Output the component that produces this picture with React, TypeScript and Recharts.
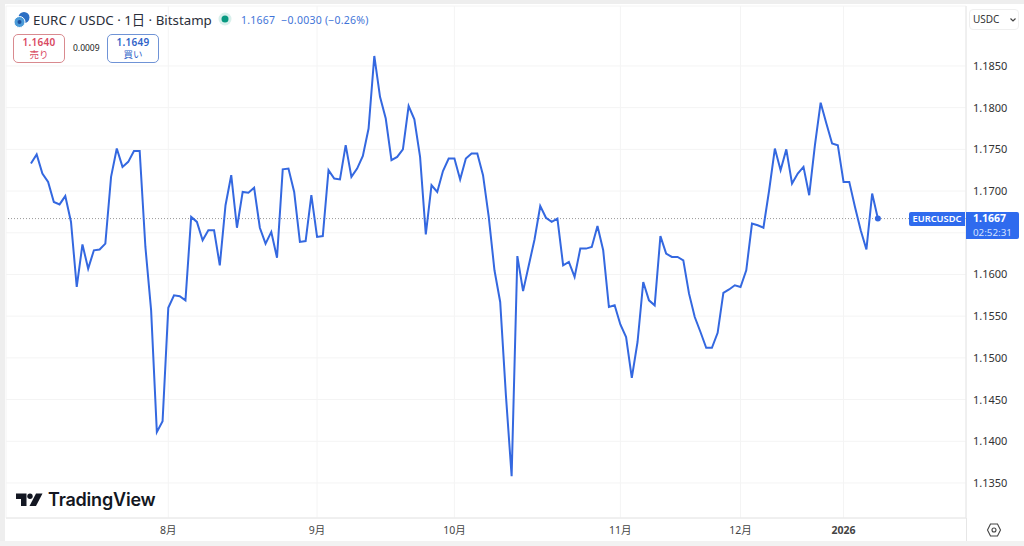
import React from "react";
import { LineChart, Line, XAxis, YAxis, CartesianGrid, ReferenceLine } from "recharts";

const closes = [
  1.1733, 1.1744, 1.1721, 1.1711, 1.1687, 1.1684, 1.1694, 1.1663, 1.1585, 1.1636,
  1.1607, 1.1629, 1.163, 1.1637, 1.1717, 1.1751, 1.1729, 1.1735, 1.1748, 1.1748,
  1.1633, 1.1557, 1.1411, 1.1424, 1.156, 1.1575, 1.1574, 1.1569, 1.1669, 1.1663,
  1.1641, 1.1653, 1.1653, 1.1611, 1.1683, 1.1719, 1.1656, 1.1699, 1.1698, 1.1704,
  1.1656, 1.1637, 1.1651, 1.162, 1.1726, 1.1727, 1.1699, 1.1639, 1.164, 1.1695,
  1.1645, 1.1646, 1.1725, 1.1715, 1.1714, 1.1755, 1.1717, 1.1727, 1.1742, 1.1775,
  1.1862, 1.1813, 1.1787, 1.1737, 1.1741, 1.175, 1.1802, 1.1786, 1.1741, 1.1648,
  1.1707, 1.1699, 1.1724, 1.1739, 1.1739, 1.1714, 1.1739, 1.1745, 1.1745, 1.1719,
  1.1669, 1.1605, 1.1567, 1.1455, 1.1358, 1.1622, 1.158, 1.1611, 1.1642, 1.1682,
  1.1668, 1.1663, 1.1667, 1.1611, 1.1615, 1.1597, 1.1631, 1.1631, 1.1633, 1.1658,
  1.1629, 1.1561, 1.1563, 1.154, 1.1525, 1.1476, 1.1519, 1.1591, 1.1569, 1.1563,
  1.1646, 1.1625, 1.1621, 1.1621, 1.1617, 1.1577, 1.1549, 1.1531, 1.1512, 1.1512,
  1.153, 1.1578, 1.1582, 1.1587, 1.1585, 1.1605, 1.1661, 1.1659, 1.1656, 1.1701,
  1.1751, 1.1725, 1.175, 1.1709, 1.1721, 1.1729, 1.1695, 1.1755, 1.1806, 1.1781,
  1.1757, 1.1755, 1.1711, 1.1711, 1.1681, 1.1653, 1.163, 1.1697, 1.1667,
];
const priceTicks = [1.135, 1.14, 1.145, 1.15, 1.155, 1.16, 1.165, 1.17, 1.175, 1.18, 1.185];
const hiddenPriceLabel = 1.165;
const monthTicks = [24, 50, 74, 103, 124, 142];
const monthLabels = ["8月", "9月", "10月", "11月", "12月", "2026"];
const lastPrice = 1.1667;
const data = closes.map((close, i) => ({ i, close }));

const FONT = "'Noto Sans', 'Noto Sans CJK JP', sans-serif";
const BLUE = "#3468e0";
const LABEL = "#2f6bee";

function XTick(props: any) {
  const { x, y, payload } = props;
  const k = monthTicks.indexOf(payload.value);
  const label = monthLabels[k];
  return (
    <text x={x} y={y + 8} textAnchor="middle" fontSize={10.5} fontFamily={FONT}
      fontWeight={label === "2026" ? 700 : 400} fill="#444">{label}</text>
  );
}

function YTick(props: any) {
  const { y, payload } = props;
  if (payload.value === hiddenPriceLabel) return <g />;
  return (
    <text x={973} y={y + 4} textAnchor="start" fontSize={11} fontFamily={FONT} fill="#333">
      {payload.value.toFixed(4)}
    </text>
  );
}

function Abs(p: { l: number; t: number; w?: number; h?: number; s?: React.CSSProperties; children?: React.ReactNode }) {
  return (
    <div style={{ position: "absolute", left: p.l, top: p.t, width: p.w, height: p.h, whiteSpace: "nowrap", ...p.s }}>
      {p.children}
    </div>
  );
}

function EndDot(props: any) {
  const { cx, cy, index } = props;
  if (index !== closes.length - 1) return <g key={index} />;
  return <circle key={index} cx={cx} cy={cy} r={3} fill={BLUE} />;
}

function Box({ l, price, word, color, bg }: { l: number; price: string; word: string; color: string; bg: string }) {
  return (
    <Abs l={l} t={34} w={52} h={29} s={{ border: `1px solid ${bg}`, borderRadius: 5, boxSizing: "border-box", textAlign: "center", color, background: "#fff" }}>
      <div style={{ fontSize: 10, fontWeight: 600, lineHeight: "13px", marginTop: 1, letterSpacing: 0.3 }}>{price}</div>
      <div style={{ fontSize: 9.5, lineHeight: "12px" }}>{word}</div>
    </Abs>
  );
}

export default function App() {
  return (
    <div style={{ position: "absolute", left: 0, top: 0, width: 1024, height: 546, background: "#fff", overflow: "hidden", fontFamily: FONT }}>
      <LineChart width={1024} height={546} data={data} margin={{ top: 6, right: 0, bottom: 0, left: 6 }}>
        <CartesianGrid stroke="#f4f4f4" strokeWidth={1} />
        <XAxis dataKey="i" type="number" domain={[-4.36, 163.4]} ticks={monthTicks} allowDataOverflow height={28}
          axisLine={{ stroke: "#e6e6e6" }} tickLine={false} tick={<XTick />} interval={0} />
        <YAxis orientation="right" type="number" domain={[1.1308, 1.19219]} ticks={priceTicks} allowDataOverflow width={58}
          axisLine={{ stroke: "#e6e6e6" }} tickLine={false} interval={0} tick={<YTick />} />
        <ReferenceLine y={lastPrice} stroke="#999" strokeDasharray="1 2" strokeWidth={1} />
        <Line dataKey="close" type="linear" stroke={BLUE} strokeWidth={2} dot={<EndDot />} activeDot={false} isAnimationActive={false} />
      </LineChart>

      {/* frame */}
      <Abs l={0} t={0} w={1024} h={4} s={{ background: "#eeeeee" }} />
      <Abs l={0} t={0} w={5} h={546} s={{ background: "#eeeeee" }} />
      <Abs l={0} t={541} w={1024} h={5} s={{ background: "#f2f2f2" }} />
      <Abs l={966} t={518} w={1} h={23} s={{ background: "#e6e6e6" }} />

      {/* header */}
      <svg style={{ position: "absolute", left: 13, top: 11 }} width={18} height={18}>
        <circle cx={11} cy={6.5} r={5.5} fill="#2b6fc4" />
        <circle cx={6.5} cy={11} r={5.5} fill="#4a9ad8" stroke="#fff" strokeWidth={1} />
        <circle cx={6.5} cy={11} r={2} fill="#1d4f9e" />
      </svg>
      <Abs l={33} t={10} s={{ fontSize: 13.3, lineHeight: "20px", color: "#2a2e39" }}>EURC / USDC · 1日 · Bitstamp</Abs>
      <svg style={{ position: "absolute", left: 218, top: 12 }} width={14} height={14}>
        <circle cx={7} cy={7} r={6.5} fill="#d9f0ec" />
        <circle cx={7} cy={7} r={3.5} fill="#089981" />
      </svg>
      <Abs l={241} t={11} s={{ fontSize: 10.5, lineHeight: "18px", color: "#3f74d8", letterSpacing: 0.25 }}>1.1667&nbsp;&nbsp;−0.0030 (−0.26%)</Abs>
      <Box l={13} price="1.1640" word="売り" color="#d9485f" bg="#d98a8f" />
      <Abs l={73} t={42} s={{ fontSize: 8.5, lineHeight: "12px", color: "#222" }}>0.0009</Abs>
      <Box l={107} price="1.1649" word="買い" color="#2f62c8" bg="#6f93d6" />

      {/* currency selector */}
      <Abs l={969} t={9} w={50} h={21} s={{ border: "1px solid #efefef", borderRadius: 4, boxSizing: "border-box", background: "#fff" }} />
      <Abs l={973} t={12} s={{ fontSize: 10, lineHeight: "15px", color: "#333" }}>USDC</Abs>
      <svg style={{ position: "absolute", left: 1009, top: 17 }} width={8} height={6}>
        <path d="M1.5 1.5 L4 4 L6.5 1.5" fill="none" stroke="#444" strokeWidth={1.2} />
      </svg>

      {/* last price labels */}
      <Abs l={909} t={212} w={56} h={14} s={{ background: LABEL, color: "#fff", fontSize: 9.3, fontWeight: 600, lineHeight: "14px", textAlign: "center", borderRadius: "2px 0 0 2px" }}>EURCUSDC</Abs>
      <Abs l={966} t={212} w={53} h={27} s={{ background: LABEL, borderRadius: "0 2px 2px 0" }} />
      <Abs l={973} t={211} s={{ color: "#fff", fontSize: 10.5, fontWeight: 700, lineHeight: "14px" }}>1.1667</Abs>
      <Abs l={973} t={226} s={{ color: "#d5e2ff", fontSize: 9.8, lineHeight: "13px" }}>02:52:31</Abs>

      {/* watermark */}
      <svg style={{ position: "absolute", left: 16, top: 492 }} width={27} height={16}>
        <path d="M0 1.5 H10.5 V14 H5 V7 H0 Z" fill="#131722" />
        <circle cx={14} cy={4.2} r={2.7} fill="#131722" />
        <path d="M20 1.5 H26.5 L20 14 H13.5 Z" fill="#131722" />
      </svg>
      <Abs l={48} t={487} s={{ fontFamily: "Inter, 'Noto Sans', sans-serif", fontSize: 18, fontWeight: 600, lineHeight: "26px", color: "#131722", letterSpacing: -0.2 }}>TradingView</Abs>

      {/* settings gear */}
      <svg style={{ position: "absolute", left: 986, top: 522 }} width={16} height={16}>
        <path d="M4.5 2 H11.5 L14.5 8 L11.5 14 H4.5 L1.5 8 Z" fill="none" stroke="#444" strokeWidth={1.1} />
        <circle cx={8} cy={8} r={2} fill="none" stroke="#444" strokeWidth={1.1} />
      </svg>
    </div>
  );
}
